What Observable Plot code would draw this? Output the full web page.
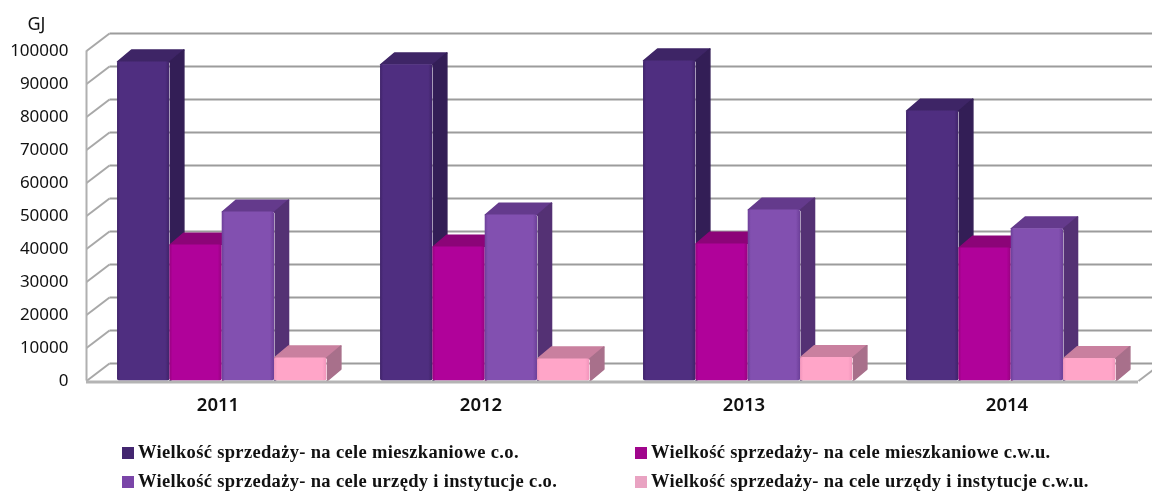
<!DOCTYPE html>
<html lang="pl">
<head>
<meta charset="utf-8">
<script src="https://cdn.jsdelivr.net/npm/d3@7"></script>
<script src="https://cdn.jsdelivr.net/npm/@observablehq/plot@0.6"></script>
<style>
  html, body { margin: 0; padding: 0; background: #fff; overflow: hidden; width: 1152px; height: 491px; }
  #chart svg { display: block; overflow: hidden; filter: blur(0.45px); }
  #legend { display: grid; grid-template-columns: 513px 1fr; grid-auto-rows: 29px; padding: 13px 0 0 122px;
            font: 700 18.5px "Liberation Serif", serif; letter-spacing: 0.33px; color: #111; filter: blur(0.3px); }
  .item { display: flex; align-items: center; white-space: nowrap; }
  .sw { width: 12px; height: 12px; margin-right: 4px; flex: none; }
</style>
</head>
<body>
<div id="chart"></div>
<div id="legend"></div>
<script>
const years = ["2011", "2012", "2013", "2014"];
const seriesNames = [
  "Wielkość sprzedaży- na cele mieszkaniowe c.o.",
  "Wielkość sprzedaży- na cele mieszkaniowe c.w.u.",
  "Wielkość sprzedaży- na cele urzędy i instytucje c.o.",
  "Wielkość sprzedaży- na cele urzędy i instytucje c.w.u."
];
const mieszkanioweCo = [96700, 95800, 97000, 81800];
const mieszkanioweCwu = [41200, 40600, 41500, 40300];
const urzedyCo = [51200, 50300, 51800, 46100];
const urzedyCwu = [7000, 6700, 7100, 6800];
const seriesValues = [mieszkanioweCo, mieszkanioweCwu, urzedyCo, urzedyCwu];

const frontColors = ["#4f2e80", "#b0029a", "#8250b0", "#ffa5c8"];
const edgeColors = ["#3f2369", "#97027f", "#6c3f98", "#f195bb"];
const topColors = ["#3e2566", "#8c0478", "#643a8c", "#c9809f"];
const sideColors = ["#331e56", "#75036a", "#543174", "#a8708b"];
const legendColors = ["#432670", "#a0058c", "#7a45a8", "#e9a3c2"];

const yTicks = d3.range(0, 100001, 10000);
const barOffset = 0.118, barWidth = 0.199;
const barDepthX = 0.0532, barDepthY = 3600;
const wallDepthX = 0.0875, wallDepthY = 5300;

function barRows(s) {
  return seriesValues[s].map((v, i) => ({
    id: i,
    x1: i + barOffset + s * barWidth,
    x2: i + barOffset + (s + 1) * barWidth,
    v
  }));
}
function topFaces(rows) {
  return rows.flatMap(r => [
    {id: r.id, x: r.x1, y: r.v},
    {id: r.id, x: r.x1 + barDepthX, y: r.v + barDepthY},
    {id: r.id, x: r.x2 + barDepthX, y: r.v + barDepthY},
    {id: r.id, x: r.x2, y: r.v}
  ]);
}
function sideFaces(rows) {
  return rows.flatMap(r => [
    {id: r.id, x: r.x2, y: r.v},
    {id: r.id, x: r.x2 + barDepthX, y: r.v + barDepthY},
    {id: r.id, x: r.x2 + barDepthX, y: barDepthY},
    {id: r.id, x: r.x2, y: 0}
  ]);
}
function gradients() {
  const defs = d3.create("svg:defs");
  frontColors.forEach((c, i) => {
    const g = defs.append("linearGradient").attr("id", "front" + i);
    [[0, edgeColors[i]], [0.06, c], [0.92, c], [1, edgeColors[i]]].forEach(([o, col]) =>
      g.append("stop").attr("offset", o).attr("stop-color", col));
  });
  return defs.node();
}

const gridStroke = "#9c9c9c";
const barMarks = seriesValues.flatMap((_, s) => {
  const rows = barRows(s);
  return [
    Plot.line(topFaces(rows), {x: "x", y: "y", z: "id", fill: topColors[s], stroke: topColors[s], strokeWidth: 1.5, strokeLinejoin: "round"}),
    Plot.line(sideFaces(rows), {x: "x", y: "y", z: "id", fill: sideColors[s], stroke: sideColors[s], strokeWidth: 1.5, strokeLinejoin: "round"}),
    Plot.rect(rows, {x1: "x1", x2: "x2", y1: 0, y2: "v", fill: `url(#front${s})`, rx: 2})
  ];
});

const chart = Plot.plot({
  width: 1152,
  height: 425,
  marginLeft: 86,
  marginRight: 14,
  marginTop: 50,
  marginBottom: 44,
  style: {fontFamily: "'Noto Sans', sans-serif", color: "#111", background: "#fff"},
  x: {domain: [0, 4], range: [86, 1138]},
  y: {domain: [0, 100000], range: [380.5, 50.5]},
  marks: [
    gradients,
    Plot.link(yTicks, {x1: wallDepthX, x2: 4 + wallDepthX, y1: d => d + wallDepthY, y2: d => d + wallDepthY, stroke: gridStroke, strokeWidth: 2.2}),
    Plot.link(yTicks, {x1: 0, x2: wallDepthX, y1: d => d, y2: d => d + wallDepthY, stroke: "#a8a8a8", strokeWidth: 2}),
    Plot.link([4], {x1: d => d, x2: d => d + wallDepthX, y1: 0, y2: wallDepthY, stroke: "#a8a8a8", strokeWidth: 2}),
    Plot.ruleX([0], {y1: 0, y2: 100000, stroke: "#b0b0b0", strokeWidth: 2}),
    ...barMarks,
    Plot.ruleY([0], {x1: 0, x2: 4, dy: 1, stroke: "#b4b4b4", strokeWidth: 3}),
    Plot.axisY({ticks: yTicks, tickSize: 0, tickPadding: 18, tickFormat: d => String(d), label: null, fontSize: 17}),
    Plot.axisX({ticks: years.map((_, i) => i + 0.5), tickFormat: d => years[d - 0.5], tickSize: 0, tickPadding: 16, label: null, fontSize: 18.5, fontWeight: 600}),
    Plot.text(["GJ"], {x: -0.19, y: 108000, text: d => d, fontSize: 18})
  ]
});
document.getElementById("chart").append(chart);

const legend = d3.select("#legend");
seriesNames.forEach((name, i) => {
  const item = legend.append("div").attr("class", "item");
  item.append("span").attr("class", "sw").style("background", legendColors[i]);
  item.append("span").text(name);
});
</script>
</body>
</html>
